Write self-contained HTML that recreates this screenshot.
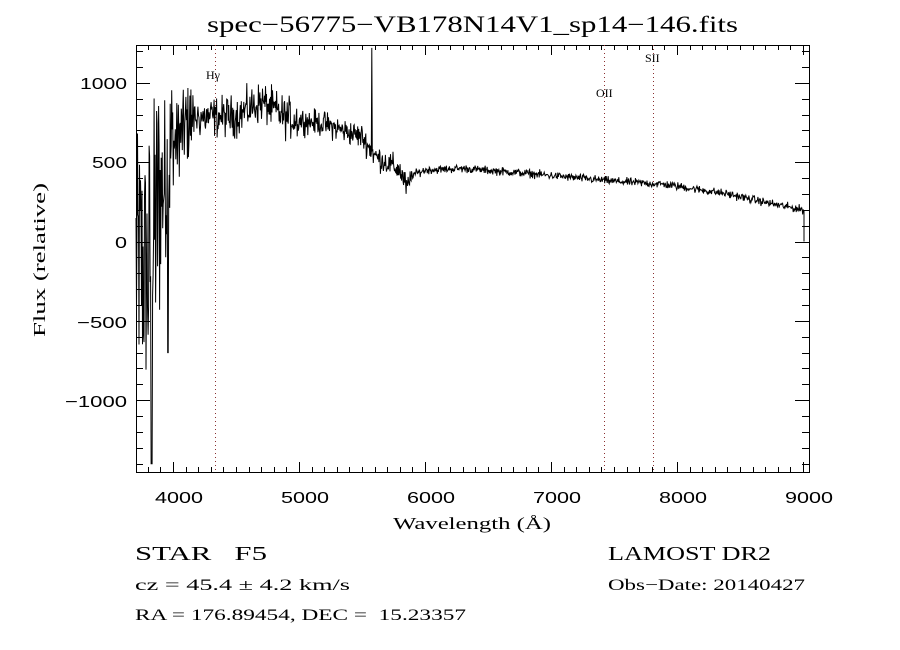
<!DOCTYPE html>
<html><head><meta charset="utf-8"><style>
body{margin:0;background:#fff;width:900px;height:650px;overflow:hidden}
svg{display:block}
.s{font-family:"Liberation Sans",sans-serif;font-size:16px;fill:#000}
.r{font-family:"Liberation Serif",serif;fill:#000}
</style></head><body>
<svg id="g" width="900" height="650" xmlns="http://www.w3.org/2000/svg">
<rect width="900" height="650" fill="#fff"/>
<text class="r" x="207" y="32" font-size="23" textLength="531" lengthAdjust="spacingAndGlyphs">spec−56775−VB178N14V1_sp14−146.fits</text>
<g id="ax" stroke="#000" stroke-width="1" fill="none"></g>
<g stroke="#8a3030" stroke-width="1" stroke-dasharray="1,3">
<line x1="215.5" y1="45" x2="215.5" y2="472"/>
<line x1="604.5" y1="45" x2="604.5" y2="472"/>
<line x1="653.5" y1="45" x2="653.5" y2="472"/>
</g>
<text class="r" x="206" y="79" font-size="12">Hγ</text>
<text class="r" x="596" y="97" font-size="12">OII</text>
<text class="r" x="645" y="62" font-size="12">SII</text>
<polyline id="sp" fill="none" stroke="#000" stroke-width="1" points=""/>
<g class="s" font-size="17">
<text x="155" y="503" textLength="48" lengthAdjust="spacingAndGlyphs">4000</text>
<text x="281" y="503" textLength="48" lengthAdjust="spacingAndGlyphs">5000</text>
<text x="407" y="503" textLength="48" lengthAdjust="spacingAndGlyphs">6000</text>
<text x="533" y="503" textLength="48" lengthAdjust="spacingAndGlyphs">7000</text>
<text x="659" y="503" textLength="48" lengthAdjust="spacingAndGlyphs">8000</text>
<text x="785" y="503" textLength="48" lengthAdjust="spacingAndGlyphs">9000</text>
</g>
<g class="s" font-size="17">
<text x="80" y="89" textLength="47" lengthAdjust="spacingAndGlyphs">1000</text>
<text x="92" y="168" textLength="35" lengthAdjust="spacingAndGlyphs">500</text>
<text x="115" y="248" textLength="12" lengthAdjust="spacingAndGlyphs">0</text>
<text x="77" y="328" textLength="50" lengthAdjust="spacingAndGlyphs">−500</text>
<text x="65" y="407" textLength="62" lengthAdjust="spacingAndGlyphs">−1000</text>
</g>
<text class="r" x="393" y="529" font-size="17" textLength="158" lengthAdjust="spacingAndGlyphs">Wavelength (Å)</text>
<text class="r" x="0" y="0" font-size="17" textLength="154" lengthAdjust="spacingAndGlyphs" transform="translate(45,337) rotate(-90)">Flux (relative)</text>
<text class="r" x="135" y="560" font-size="20" textLength="132" lengthAdjust="spacingAndGlyphs">STAR&#160;&#160;&#160;F5</text>
<text class="r" x="608" y="560" font-size="20" textLength="163" lengthAdjust="spacingAndGlyphs">LAMOST DR2</text>
<text class="r" x="135" y="590" font-size="16" textLength="215" lengthAdjust="spacingAndGlyphs">cz = 45.4 ± 4.2 km/s</text>
<text class="r" x="608" y="590" font-size="16" textLength="197" lengthAdjust="spacingAndGlyphs">Obs−Date: 20140427</text>
<text class="r" x="135" y="620" font-size="16" textLength="331" lengthAdjust="spacingAndGlyphs">RA = 176.89454, DEC =&#160;&#160;15.23357</text>
</svg>
<script>
var L=136,R=809,T=45,B=472;
function X(w){return 173+(w-4000)*0.126;}
function Y(f){return 241.5-f*0.1587;}
var ax=document.getElementById('ax'),h='<rect x="'+L+'.5" y="'+T+'.5" width="'+(R-L)+'" height="'+(B-T)+'"/>';
for(var w=3800;w<=9000;w+=100){var x=Math.round(X(w))+.5,m=(w%1000==0)?10:5;
h+='<line x1="'+x+'" y1="'+B+'" x2="'+x+'" y2="'+(B-m)+'"/><line x1="'+x+'" y1="'+T+'" x2="'+x+'" y2="'+(T+m)+'"/>';}
for(var f=-1400;f<=1200;f+=100){var y=Math.round(Y(f))+.5,m=(f%500==0)?14:7;
h+='<line x1="'+L+'" y1="'+y+'" x2="'+(L+m)+'" y2="'+y+'"/><line x1="'+R+'" y1="'+y+'" x2="'+(R-m)+'" y2="'+y+'"/>';}
ax.innerHTML=h;
var s=12345;function rnd(){s=(s*1103515245+12345)%2147483648;return s/2147483648;}
function g(){return (rnd()+rnd()+rnd()-1.5)*1.4;}
function u(){return rnd()*2-1;}
var K=[[3706,-100],[3800,-200],[3900,300],[4000,600],[4150,780],[4500,790],[4700,880],[4900,780],[5200,740],[5500,660],[5600,540],[5800,450],[5860,330],[5900,420],[6000,450],[6300,460],[6800,430],[7500,380],[7900,360],[8400,300],[8800,230],[9000,200]];
function cont(w){for(var i=1;i<K.length;i++)if(w<=K[i][0]){var a=K[i-1],b=K[i];return a[1]+(b[1]-a[1])*(w-a[0])/(b[0]-a[0]);}return 200;}
var p=[];
for(var w=3706;w<=9005;w+=4){var c=cont(w),n;
if(w<3800)n=u()*800;else if(w<3900)n=u()*900;else if(w<4000)n=u()*550;else if(w<4150)n=u()*260;else if(w<5000)n=g()*90;else if(w<5900)n=g()*55;else n=g()*18;
if(Math.abs(w-3830)<6)n=-1400-c;
if(Math.abs(w-3960)<5)n=-700-c;
if(Math.abs(w-5578)<3)n=1220-c;
var f=c+n;if(f<-1440)f=-1440;if(f>1220)f=1220;
p.push(X(w).toFixed(1)+','+Y(f).toFixed(1));}
p.push(X(9008).toFixed(1)+','+Y(190).toFixed(1));p.push(X(9008).toFixed(1)+','+Y(0).toFixed(1));
document.getElementById('sp').setAttribute('points',p.join(' '));
</script>
</body></html>
